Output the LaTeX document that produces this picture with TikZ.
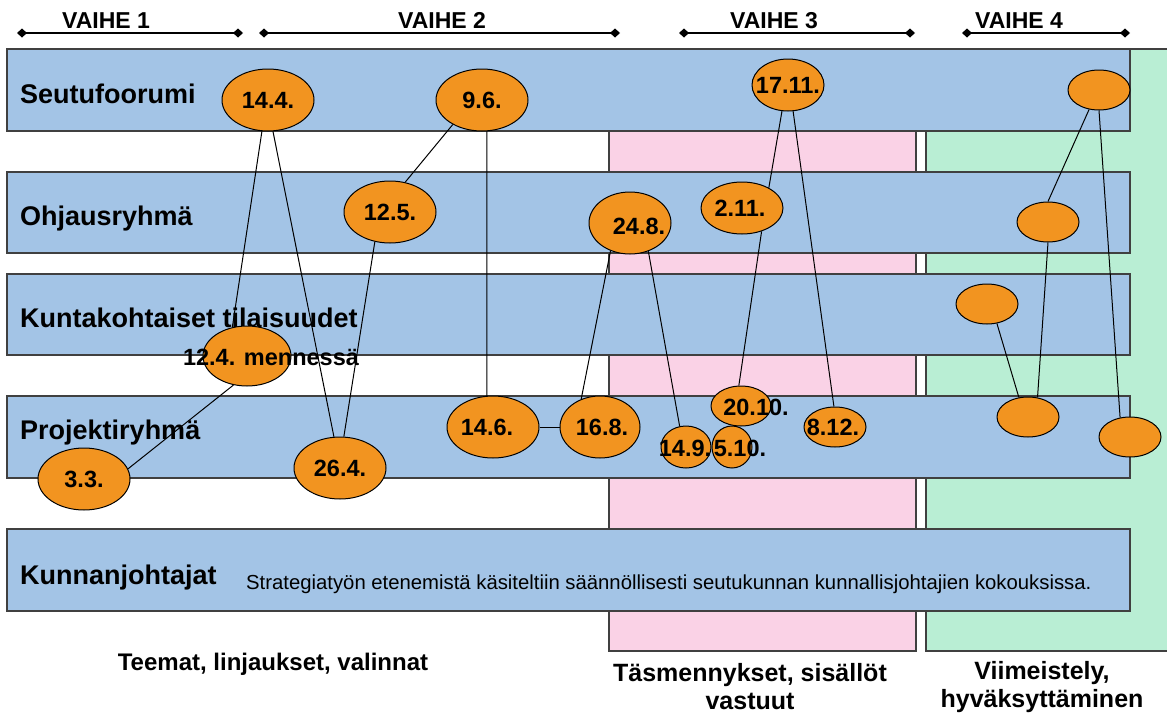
\documentclass[tikz,border=0pt]{standalone}
\usepackage{fontspec}
\setmainfont{Liberation Sans}
\usetikzlibrary{shapes.geometric,arrows.meta}
\begin{document}
\begin{tikzpicture}[x=1pt, y=-1pt,
  band/.style={draw=black!75, line width=1.5pt, fill=bandblue},
  column/.style={draw=black!75, line width=1.5pt},
  bandlabel/.style={anchor=base west, inner sep=0pt, font=\fontsize{27}{31}\selectfont\bfseries},
  phaselabel/.style={anchor=base, inner sep=0pt, font=\fontsize{23}{27}\selectfont\bfseries},
  phase/.style={line width=1.5pt, {Diamond[length=10pt,width=9pt]}-{Diamond[length=10pt,width=9pt]}},
  meet/.style={ellipse, draw=black, line width=1pt, fill=meetorange, inner sep=0pt},
  datelabel/.style={inner sep=0pt, font=\fontsize{23.5}{27}\selectfont\bfseries},
  link/.style={draw=black, line width=1pt},
  stagetext/.style={align=center, inner sep=0pt, font=\fontsize{25}{28}\selectfont\bfseries}
]
\useasboundingbox (0,0) rectangle (1167,715);
\definecolor{bandblue}{HTML}{A3C4E6}
\definecolor{meetorange}{HTML}{F29420}
\definecolor{colpink}{HTML}{FAD2E6}
\definecolor{colgreen}{HTML}{B9EED4}
% stage columns
\fill[colpink] (609,49) rectangle (916,651);
\draw[column] (609,49) rectangle (916,651);
\fill[colgreen] (926,49) rectangle (1167,651);
\draw[column] (1168,49) -- (926,49) -- (926,651) -- (1168,651);
% phases
\coordinate (v1a) at (17,33); \coordinate (v1b) at (243,33);
\coordinate (v2a) at (259,33); \coordinate (v2b) at (620,33);
\coordinate (v3a) at (679,33); \coordinate (v3b) at (915,33);
\coordinate (v4a) at (962,33); \coordinate (v4b) at (1130,33);
\draw[phase] (v1a) -- (v1b); \node[phaselabel] (vaihe1) at (106,28) {VAIHE 1};
\draw[phase] (v2a) -- (v2b); \node[phaselabel] (vaihe2) at (442,28) {VAIHE 2};
\draw[phase] (v3a) -- (v3b); \node[phaselabel] (vaihe3) at (774,28) {VAIHE 3};
\draw[phase] (v4a) -- (v4b); \node[phaselabel] (vaihe4) at (1019,28) {VAIHE 4};
% bands
\draw[band] (7,49) rectangle (1130,131);
\draw[band] (7,172) rectangle (1130,253);
\draw[band] (7,274) rectangle (1130,355);
\draw[band] (7,396) rectangle (1130,478);
\draw[band] (7,529) rectangle (1130,611);
\node[bandlabel] (seutu) at (20,103) {Seutufoorumi};
\node[bandlabel] (ohjaus) at (20,225) {Ohjausryhmä};
\node[bandlabel] (kunta) at (20,327) {Kuntakohtaiset tilaisuudet};
\node[bandlabel] (projekti) at (20,439) {Projektiryhmä};
\node[bandlabel] (johtajat) at (20,584) {Kunnanjohtajat};
\node[anchor=base west, inner sep=0pt, font=\fontsize{20.3}{24}\selectfont] (strategia) at (246,589) {Strategiatyön etenemistä käsiteltiin säännöllisesti seutukunnan kunnallisjohtajien kokouksissa.};
% meetings
\node[meet, minimum width=92pt, minimum height=62pt, label={[datelabel]center:14.4.}] (n144) at (268,100) {};
\node[meet, minimum width=92pt, minimum height=62pt, label={[datelabel]center:9.6.}] (n96) at (482,100) {};
\node[meet, minimum width=72pt, minimum height=52pt, label={[datelabel]center:17.11.}] (n1711) at (788,85) {};
\node[meet, minimum width=62pt, minimum height=40pt] (s4) at (1099,90) {};
\node[meet, minimum width=92pt, minimum height=62pt, label={[datelabel]center:12.5.}] (n125) at (390,212) {};
\node[meet, minimum width=82pt, minimum height=62pt, label={[datelabel, xshift=9pt, yshift=-3pt]center:24.8.}] (n248) at (630,223) {};
\node[meet, minimum width=82pt, minimum height=52pt, label={[datelabel, xshift=-2pt]center:2.11.}] (n211) at (742,208) {};
\node[meet, minimum width=62pt, minimum height=40pt] (o4) at (1048,222) {};
\node[meet, minimum width=62pt, minimum height=40pt] (k4) at (987,304) {};
\node[meet, minimum width=88pt, minimum height=60pt, label={[datelabel, xshift=24pt, yshift=-1pt]center:12.4. mennessä}] (n124) at (247,356) {};
\node[meet, minimum width=92pt, minimum height=62pt, label={[datelabel]center:3.3.}] (n33) at (84,479) {};
\node[meet, minimum width=92pt, minimum height=62pt, label={[datelabel]center:26.4.}] (n264) at (340,468) {};
\node[meet, minimum width=92pt, minimum height=62pt, label={[datelabel, xshift=-6pt]center:14.6.}] (n146) at (493,427) {};
\node[meet, minimum width=80pt, minimum height=62pt, label={[datelabel, xshift=2pt]center:16.8.}] (n168) at (600,427) {};
\node[meet, minimum width=50pt, minimum height=42pt, label={[datelabel, xshift=-1pt, yshift=-1pt]center:14.9.}] (n149) at (686,447) {};
\node[meet, minimum width=40pt, minimum height=42pt, label={[datelabel, xshift=8pt, yshift=-1pt]center:5.10.}] (n510) at (732,447) {};
\node[meet, minimum width=60pt, minimum height=40pt, label={[datelabel, xshift=15pt, yshift=-1pt]center:20.10.}] (n2010) at (741,406) {};
\node[meet, minimum width=62pt, minimum height=40pt, label={[datelabel, xshift=-2pt]center:8.12.}] (n812) at (835,427) {};
\node[meet, minimum width=62pt, minimum height=40pt] (p4a) at (1028,417) {};
\node[meet, minimum width=62pt, minimum height=40pt] (p4b) at (1130,437) {};
% connections
\draw[link] (n144.-101) -- (n124.117);
\draw[link] (n144.-81) -- (n264.101);
\draw[link] (n125.-117) -- (n264.83);
\draw[link] (n96.-140) -- (n125.63);
\draw[link] (n96.-81) -- (n146.101);
\draw[link] (n146) -- (n168);
\draw[link] (n248.-125) -- (n168.124);
\draw[link] (n248.-57) -- (n149.107);
\draw[link] (n1711.-103) -- (n211.37);
\draw[link] (n1711.-79) -- (n812.93);
\draw[link] (n211.-50) -- (n2010.96);
\draw[link] (n124.-115) -- (n33.13);
\draw[link] (s4.-117) -- (o4.90);
\draw[link] (s4.-90) -- (p4b.117);
\draw[link] (o4.-90) -- (p4a.64);
\draw[link] (k4.-63) -- (p4a.115);
% stages
\node[stagetext, font=\fontsize{24}{28}\selectfont\bfseries] (teemat) at (273,664) {Teemat, linjaukset, valinnat};
\node[stagetext] (tasmennys) at (750,687) {Täsmennykset, sisällöt\\vastuut};
\node[stagetext] (viimeistely) at (1042,687) {Viimeistely,\\hyväksyttäminen};
\end{tikzpicture}
\end{document}
